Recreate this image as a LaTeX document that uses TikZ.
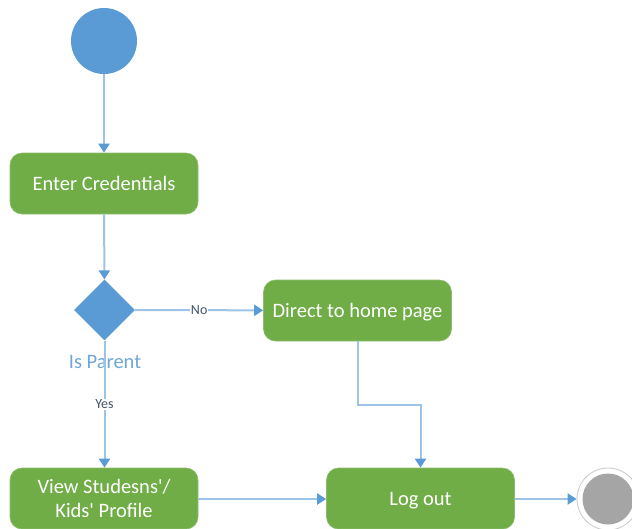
\documentclass[tikz,border=0pt]{standalone}
\usepackage{fontspec}
\setmainfont{Carlito}[Ligatures=TeXOff]
\usetikzlibrary{arrows.meta,shapes.geometric}
\definecolor{actgreen}{HTML}{70AD47}
\definecolor{nodeblue}{HTML}{5B9BD5}
\definecolor{lineblue}{HTML}{9DC3E6}
\definecolor{labelblue}{HTML}{6FA6DA}
\definecolor{slate}{HTML}{44546A}
\definecolor{endgray}{HTML}{A5A5A5}
\tikzset{
  activity/.style={draw=actgreen!80!white, line width=0.6pt, fill=actgreen, rounded corners=12pt,
    minimum width=188pt, minimum height=61pt, inner sep=0pt, text=white,
    font=\fontsize{20.5}{24}\selectfont, align=center},
  label text/.style={text depth=0pt},
  flow/.style={draw=lineblue, line width=2pt,
    -{Triangle[width=11pt,length=9pt,color=nodeblue,fill=nodeblue]}},
  guard/.style={fill=white, text=slate, inner sep=1pt, font=\fontsize{14}{16}\selectfont},
}
\begin{document}
\begin{tikzpicture}[x=1pt,y=-1pt]
\useasboundingbox (0,0) rectangle (632,528);

% start and final states
\node[circle, fill=nodeblue, minimum size=66pt, inner sep=0pt] (start) at (104,41) {};
\node[circle, draw=endgray!60, line width=0.8pt, fill=white, minimum size=62pt, inner sep=0pt] (final) at (608,499) {};
\node[circle, fill=endgray, minimum size=51pt, inner sep=0pt] at (final.center) {};

% activities
\node[activity] (cred) at (104,183.5) {Enter Credentials};
\node[activity, label text] (home) at (357.5,310.5) {Direct to home page};
\node[activity, label text] (view) at (104,498.5) {View Studesns'/\\Kids' Profile};
\node[activity, label text] (logout) at (420.5,498.5) {Log out};

% decision
\node[diamond, fill=nodeblue, minimum width=61pt, minimum height=61pt, inner sep=0pt] (dec) at (104.5,310) {};
\node[text=labelblue, font=\fontsize{20.5}{24}\selectfont] (declabel) at (105,362) {Is Parent};

% flows
\draw[flow] (start) -- (cred);
\draw[flow] (cred) -- (dec);
\draw[flow] (dec) -- node[guard] {No} (home);
\draw[flow] (dec.south) -- node[guard, pos=0.5] {Yes} (view.north -| dec.south);
\draw[flow] (home.south) |- (logout.north |- 0,405) -- (logout.north);
\draw[flow] (view.east |- 0,499) -- (logout.west |- 0,499);
\draw[flow] (logout.east |- 0,499) -- (final);
\end{tikzpicture}
\end{document}
